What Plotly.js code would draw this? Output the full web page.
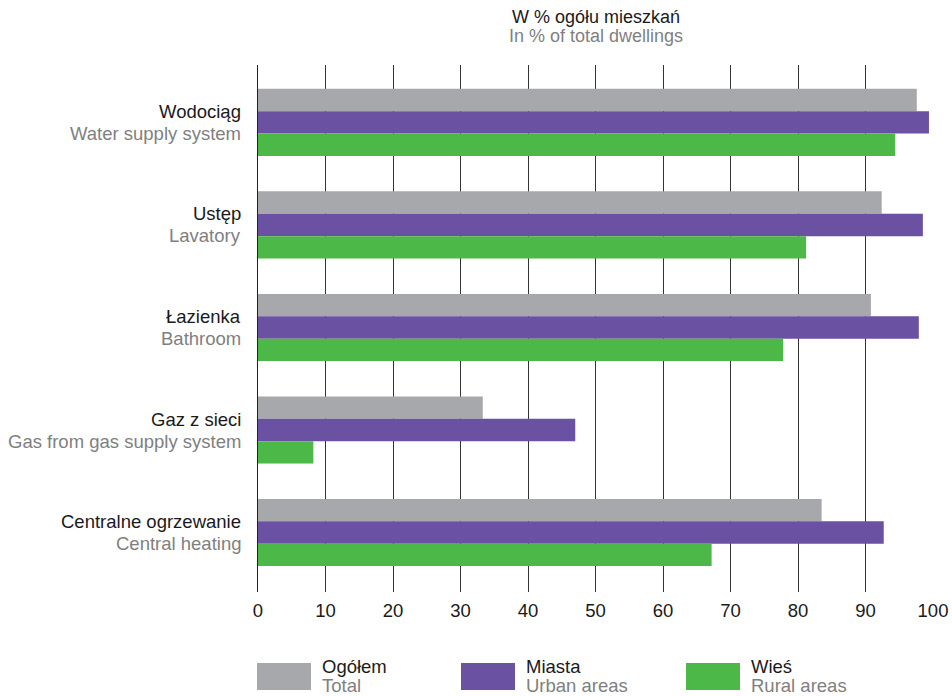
<!DOCTYPE html>
<html>
<head>
<meta charset="utf-8">
<script src="https://cdn.plot.ly/plotly-3.0.1.min.js"></script>
<style>html,body{margin:0;padding:0;background:#fff;}#chart{width:952px;height:696px;}</style>
</head>
<body>
<div id="chart"></div>
<script>
const categoriesPL = ["Wodociąg", "Ustęp", "Łazienka", "Gaz z sieci", "Centralne ogrzewanie"];
const categoriesEN = ["Water supply system", "Lavatory", "Bathroom", "Gas from gas supply system", "Central heating"];
const seriesPL = ["Ogółem", "Miasta", "Wieś"];
const seriesEN = ["Total", "Urban areas", "Rural areas"];
const totalValues = [97.6, 92.4, 90.8, 33.3, 83.5];
const urbanValues = [99.4, 98.5, 97.9, 47.0, 92.7];
const ruralValues = [94.4, 81.2, 77.8, 8.2, 67.2];
const xTicks = [0, 10, 20, 30, 40, 50, 60, 70, 80, 90, 100];
const titlePL = "W % ogółu mieszkań";
const titleEN = "In % of total dwellings";

const colors = ["#A7A8AB", "#6B51A1", "#4CB848"];
const black = "#1a1a1a", grey = "#7f7f7f";
const FONT = "Liberation Sans, Arial, sans-serif";
const seriesValues = [totalValues, urbanValues, ruralValues];
const idx = categoriesPL.map((_, i) => i);

const traces = seriesValues.map((vals, s) => ({
  type: "bar",
  orientation: "h",
  x: vals,
  y: idx,
  name: seriesPL[s],
  marker: {color: colors[s], line: {width: 0}},
  showlegend: false,
  hoverinfo: "x"
}));

const shapes = [];
const annotations = [];
// title
annotations.push({xref: "paper", yref: "paper", x: 0.5, y: 1, yshift: 48, xanchor: "center", yanchor: "middle",
  text: titlePL, showarrow: false, font: {family: FONT, size: 18, color: black}});
annotations.push({xref: "paper", yref: "paper", x: 0.5, y: 1, yshift: 29, xanchor: "center", yanchor: "middle",
  text: titleEN, showarrow: false, font: {family: FONT, size: 18, color: grey}});
// category labels
categoriesPL.forEach((c, i) => {
  annotations.push({xref: "paper", yref: "y", x: 0, xshift: -15, y: i, yshift: 11, xanchor: "right", yanchor: "middle",
    text: c, showarrow: false, font: {family: FONT, size: 18.5, color: black}});
  annotations.push({xref: "paper", yref: "y", x: 0, xshift: -15, y: i, yshift: -11, xanchor: "right", yanchor: "middle",
    text: categoriesEN[i], showarrow: false, font: {family: FONT, size: 18.5, color: grey}});
});
// legend
const legendX = [257, 461, 686];
seriesPL.forEach((name, s) => {
  const x0 = legendX[s];
  shapes.push({type: "rect", xref: "paper", yref: "paper",
    x0: (x0 - 258) / 675, x1: (x0 + 54 - 258) / 675,
    y0: (592 - 690) / 527, y1: (592 - 663) / 527,
    fillcolor: colors[s], line: {width: 0}});
  annotations.push({xref: "paper", yref: "paper",
    x: (x0 + 63 - 258) / 675, y: (592 - 666) / 527, xanchor: "left", yanchor: "middle",
    text: name, showarrow: false, font: {family: FONT, size: 18.5, color: black}});
  annotations.push({xref: "paper", yref: "paper",
    x: (x0 + 63 - 258) / 675, y: (592 - 685.5) / 527, xanchor: "left", yanchor: "middle",
    text: seriesEN[s], showarrow: false, font: {family: FONT, size: 18.5, color: grey}});
});

const layout = {
  width: 952, height: 696,
  margin: {l: 258, r: 19, t: 65, b: 104},
  paper_bgcolor: "#fff", plot_bgcolor: "#fff",
  barmode: "group", bargap: 0.345, bargroupgap: 0,
  font: {family: FONT, size: 18.5, color: black},
  xaxis: {range: [0, 100], tickvals: xTicks, ticktext: xTicks.map(String),
    showgrid: true, gridcolor: "#333", gridwidth: 1, zeroline: false,
    showline: false, ticks: "", ticklabelstandoff: 5,
    tickfont: {family: FONT, size: 18.5, color: black}, fixedrange: true},
  yaxis: {range: [4.58, -0.56], tickvals: idx, showticklabels: false,
    showgrid: false, zeroline: false, showline: true, linecolor: "#222", linewidth: 1.5,
    ticks: "", fixedrange: true},
  shapes: shapes,
  annotations: annotations,
  showlegend: false
};

Plotly.newPlot("chart", traces, layout, {displayModeBar: false, staticPlot: true});
</script>
</body>
</html>
